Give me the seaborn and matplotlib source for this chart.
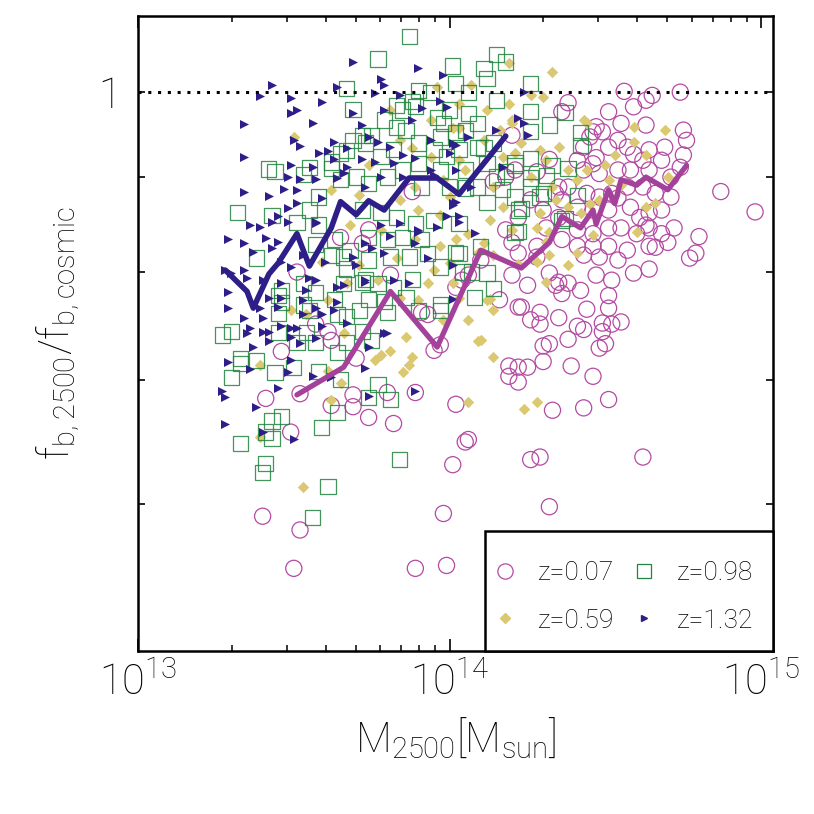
import matplotlib
matplotlib.use("Agg")
import matplotlib.pyplot as plt
import matplotlib.ticker as mticker
from matplotlib.lines import Line2D
from matplotlib.patches import Rectangle
import numpy as np
import seaborn as sns

# (log10 M2500 [Msun], f_b,2500 / f_b,cosmic)
z007_pts = [
    (14.20, 0.797), (14.25, 0.787), (14.23, 0.766), (14.26, 0.754), (14.29, 0.761), (14.29, 0.750),
    (14.35, 0.756), (14.34, 0.787), (14.36, 0.779), (14.38, 0.789), (14.42, 0.782), (14.35, 0.790),
    (14.32, 0.799), (14.43, 0.817), (14.48, 0.815), (14.47, 0.797), (14.52, 0.792), (14.51, 0.777),
    (14.51, 0.765), (14.44, 0.764), (14.41, 0.748), (14.43, 0.745), (14.49, 0.751), (14.52, 0.750),
    (14.55, 0.752), (14.49, 0.743), (14.50, 0.732), (14.48, 0.728), (14.38, 0.736), (14.32, 0.732),
    (14.30, 0.730), (14.30, 0.716), (14.19, 0.712), (14.22, 0.711), (14.25, 0.711), (14.19, 0.703),
    (14.22, 0.698), (14.39, 0.712), (14.46, 0.703), (14.51, 0.683), (14.43, 0.676), (14.33, 0.674),
    (14.59, 0.799), (14.64, 0.803), (14.66, 0.825), (14.54, 0.812), (14.06, 0.650), (14.26, 0.634),
    (14.29, 0.636), (14.62, 0.636), (14.77, 0.814), (13.97, 0.731), (14.02, 0.679), (14.05, 0.648),
    (14.01, 0.630), (13.98, 0.593), (13.99, 0.556), (14.32, 0.598), (13.41, 0.684), (13.52, 0.688),
    (13.46, 0.725), (13.62, 0.678), (13.69, 0.677), (13.74, 0.668), (13.82, 0.663), (13.80, 0.689),
    (13.89, 0.689), (13.69, 0.687), (13.70, 0.719), (13.62, 0.735), (13.49, 0.656), (13.40, 0.591),
    (13.52, 0.581), (13.50, 0.554), (13.89, 0.554), (13.95, 0.726), (14.56, 1.001), (14.63, 0.990),
    (14.65, 0.996), (14.59, 0.982), (14.51, 0.976), (14.74, 1.000), (14.75, 0.954), (14.76, 0.942),
    (14.69, 0.934), (14.63, 0.960), (14.55, 0.962), (14.47, 0.958), (14.49, 0.952), (14.45, 0.946),
    (14.54, 0.942), (14.57, 0.934), (14.64, 0.931), (14.68, 0.919), (14.74, 0.911), (14.71, 0.900),
    (14.62, 0.919), (14.59, 0.926), (14.51, 0.934), (14.47, 0.922), (14.43, 0.934), (14.41, 0.919),
    (14.46, 0.915), (14.43, 0.908), (14.48, 0.904), (14.54, 0.908), (14.58, 0.908), (14.64, 0.908),
    (14.62, 0.889), (14.66, 0.882), (14.71, 0.878), (14.57, 0.889), (14.52, 0.882), (14.48, 0.878),
    (14.44, 0.882), (14.38, 0.889), (14.36, 0.875), (14.34, 0.882), (14.41, 0.867), (14.46, 0.864),
    (14.51, 0.864), (14.58, 0.867), (14.64, 0.861), (14.68, 0.864), (14.64, 0.845), (14.68, 0.839),
    (14.60, 0.839), (14.55, 0.845), (14.51, 0.845), (14.46, 0.839), (14.41, 0.843), (14.36, 0.833),
    (14.41, 0.826), (14.46, 0.826), (14.51, 0.826), (14.57, 0.822), (14.64, 0.826), (14.70, 0.830),
    (14.72, 0.845), (14.28, 0.826), (14.31, 0.845), (14.35, 0.856), (14.30, 0.864), (14.26, 0.875),
    (14.35, 0.889), (14.80, 0.836), (14.79, 0.819), (14.28, 0.815), (14.22, 0.819), (14.36, 0.976),
    (14.38, 0.987), (14.75, 0.925), (14.87, 0.884), (14.98, 0.862), (14.63, 0.848), (14.61, 0.856),
    (14.54, 0.877), (14.46, 0.952), (13.51, 0.800), (13.65, 0.835), (13.57, 0.750), (13.61, 0.743),
    (14.18, 0.843), (14.20, 0.830), (14.22, 0.856), (14.06, 0.797), (14.04, 0.792), (14.02, 0.785),
    (13.93, 0.759), (14.22, 0.766), (14.20, 0.948), (14.21, 0.908), (14.18, 0.900), (13.88, 0.884),
    (13.74, 0.843), (13.81, 0.797), (13.72, 0.829), (13.91, 0.761), (14.32, 0.920), (14.28, 0.906),
    (14.14, 0.895), (14.10, 0.812), (14.16, 0.773),
]

z059_pts = [
    (13.50, 0.946), (13.96, 1.007), (14.07, 1.009), (14.19, 0.985), (14.19, 1.037), (14.12, 0.978),
    (14.03, 0.986), (14.20, 0.966), (14.03, 0.957), (14.11, 0.942), (14.16, 0.954), (14.17, 0.923),
    (14.05, 0.908), (13.98, 0.897), (13.88, 0.933), (13.94, 0.923), (13.81, 0.978), (14.14, 0.889),
    (14.01, 0.957), (14.00, 0.878), (13.89, 0.889), (13.84, 0.942), (13.93, 0.789), (14.12, 0.773),
    (14.03, 0.775), (14.14, 0.763), (14.09, 0.734), (14.14, 0.720), (13.86, 0.738), (13.81, 0.725),
    (13.88, 0.720), (13.78, 0.722), (13.85, 0.707), (14.01, 0.789), (14.00, 0.809), (14.09, 0.819),
    (14.13, 0.853), (14.17, 0.867), (13.97, 0.826), (13.83, 0.814), (13.95, 0.802), (13.84, 0.775),
    (13.77, 0.792), (14.20, 0.843), (14.06, 0.839), (13.61, 0.773), (13.49, 0.763), (13.54, 0.759),
    (13.39, 0.713), (13.66, 0.742), (13.67, 0.789), (13.59, 0.810), (13.62, 0.683), (13.65, 0.697),
    (13.76, 0.717), (13.87, 0.713), (13.53, 0.613), (13.61, 0.708), (13.39, 0.652), (14.11, 0.829),
    (14.14, 0.817), (14.22, 0.808), (14.28, 0.810), (14.32, 0.817), (14.31, 0.830), (14.41, 0.819),
    (14.38, 0.807), (14.31, 0.790), (14.13, 0.774), (14.10, 0.735), (14.06, 0.681), (14.24, 0.675),
    (14.28, 0.681), (14.33, 1.025), (14.26, 0.996), (14.30, 0.994), (14.43, 0.966), (14.59, 0.958),
    (14.69, 0.954), (14.59, 0.940), (14.63, 0.925), (14.53, 0.925), (14.50, 0.914), (14.44, 0.908),
    (14.51, 0.897), (14.55, 0.891), (14.70, 0.900), (14.48, 0.875), (14.45, 0.871), (14.42, 0.861),
    (14.38, 0.867), (14.34, 0.875), (14.31, 0.919), (14.35, 0.934), (14.29, 0.931), (14.23, 0.939),
    (14.26, 0.900), (14.38, 0.908), (14.41, 0.897), (14.33, 0.889), (14.29, 0.861), (14.32, 0.841),
    (14.46, 0.838), (14.60, 0.841), (14.66, 0.872), (14.63, 0.867), (14.28, 0.845), (14.20, 0.963),
    (14.21, 0.927), (14.44, 0.963), (13.71, 0.880), (13.78, 0.843), (13.68, 0.848), (13.90, 0.864),
    (13.84, 0.875), (13.97, 0.859), (14.03, 0.919), (13.74, 0.914), (13.62, 0.886), (13.89, 0.833),
    (14.02, 0.833), (13.71, 0.807), (13.90, 0.773), (13.98, 0.754), (14.06, 0.754), (13.94, 0.966),
]

z098_pts = [
    (13.67, 1.005), (13.69, 0.979), (13.42, 0.909), (13.44, 0.906), (13.55, 0.911), (13.53, 0.903),
    (13.62, 0.910), (13.65, 0.927), (13.69, 0.942), (13.65, 0.897), (13.70, 0.900), (13.58, 0.878),
    (13.87, 1.071), (13.77, 1.042), (14.01, 1.033), (14.15, 1.048), (14.18, 1.038), (14.11, 1.030),
    (14.12, 1.017), (13.90, 1.002), (14.02, 1.011), (14.06, 1.000), (14.15, 0.990), (13.89, 0.982),
    (13.85, 0.978), (13.79, 0.966), (13.83, 0.957), (13.86, 0.954), (13.75, 0.948), (13.96, 0.969),
    (14.00, 0.978), (13.98, 0.962), (14.06, 0.974), (14.09, 0.962), (14.05, 0.954), (14.02, 0.951),
    (13.97, 0.946), (13.90, 0.939), (13.82, 0.931), (13.78, 0.923), (13.73, 0.939), (13.95, 0.931),
    (13.99, 0.923), (14.03, 0.931), (14.09, 0.934), (14.14, 0.939), (14.12, 0.915), (14.15, 0.900),
    (14.05, 0.908), (13.97, 0.908), (13.90, 0.915), (13.85, 0.908), (13.80, 0.900), (13.74, 0.893),
    (13.91, 0.889), (14.00, 0.889), (14.09, 0.889), (14.17, 0.886), (13.32, 0.861), (13.43, 0.858),
    (13.51, 0.851), (13.58, 0.848), (13.38, 0.814), (13.53, 0.789), (13.66, 0.789), (13.46, 0.782),
    (13.57, 0.780), (13.46, 0.770), (13.45, 0.760), (13.55, 0.763), (13.63, 0.773), (13.67, 0.757),
    (13.30, 0.743), (13.27, 0.740), (13.45, 0.742), (13.54, 0.742), (13.51, 0.733), (13.57, 0.733),
    (13.67, 0.733), (13.33, 0.714), (13.38, 0.717), (13.50, 0.711), (13.64, 0.724), (13.63, 0.833),
    (13.66, 0.815), (13.68, 0.822), (13.55, 0.864), (13.72, 0.864), (13.78, 0.861), (13.83, 0.856),
    (13.89, 0.850), (13.95, 0.853), (14.03, 0.850), (14.12, 0.872), (14.21, 0.840), (13.74, 0.835),
    (13.80, 0.833), (13.85, 0.835), (13.91, 0.833), (13.74, 0.812), (13.81, 0.815), (13.87, 0.815),
    (13.93, 0.819), (13.97, 0.805), (14.03, 0.819), (14.10, 0.826), (14.12, 0.799), (14.07, 0.800),
    (13.73, 0.793), (13.77, 0.789), (13.82, 0.785), (13.88, 0.793), (13.86, 0.775), (13.74, 0.773),
    (13.71, 0.763), (13.80, 0.761), (13.90, 0.763), (13.97, 0.763), (14.08, 0.775), (14.14, 0.784),
    (13.75, 0.735), (13.33, 0.719), (13.30, 0.702), (13.44, 0.706), (13.58, 0.707), (13.65, 0.700),
    (13.77, 0.696), (13.81, 0.683), (13.74, 0.685), (13.46, 0.669), (13.43, 0.665), (13.41, 0.656),
    (13.43, 0.651), (13.33, 0.647), (13.41, 0.631), (13.40, 0.624), (13.59, 0.660), (13.64, 0.672),
    (13.84, 0.634), (13.61, 0.613), (13.56, 0.590), (14.26, 1.011), (14.26, 0.976), (14.37, 0.975),
    (14.32, 0.960), (14.26, 0.952), (14.42, 0.951), (14.42, 0.936), (14.21, 0.913), (14.33, 0.913),
    (14.38, 0.910), (14.41, 0.880), (14.37, 0.855), (14.26, 0.899), (14.22, 0.864), (14.02, 0.820),
    (14.04, 0.800), (13.97, 0.768), (14.21, 0.878), (14.29, 0.878), (14.18, 0.906), (14.11, 0.933),
    (14.05, 0.888), (14.26, 0.921), (14.21, 0.916), (14.31, 0.902), (14.26, 0.889), (14.30, 0.882),
    (14.23, 0.866), (14.36, 0.853), (14.22, 0.841), (13.62, 0.917), (13.67, 0.930), (13.72, 0.948),
    (13.83, 0.984), (13.88, 0.988), (13.94, 1.000), (13.57, 0.828), (13.62, 0.817), (13.67, 0.803),
    (13.72, 0.790), (13.79, 0.771), (13.45, 0.777), (13.53, 0.768), (13.64, 0.759), (13.72, 0.743),
]

z132_pts = [
    (13.69, 1.038), (13.43, 1.009), (13.39, 0.995), (13.49, 0.993), (13.59, 0.988), (13.64, 1.006),
    (13.49, 0.975), (13.51, 0.978), (13.34, 0.961), (13.56, 0.963), (13.34, 0.923), (13.49, 0.914),
    (13.52, 0.935), (13.50, 0.942), (13.58, 0.927), (13.61, 0.930), (13.63, 0.940), (13.67, 0.933),
    (13.63, 0.921), (13.48, 0.900), (13.52, 0.898), (13.57, 0.898), (13.56, 0.911), (13.47, 0.887),
    (13.51, 0.886), (13.34, 0.883), (13.42, 0.879), (13.69, 0.975), (13.64, 0.899), (13.67, 0.911),
    (13.77, 0.940), (13.78, 1.017), (13.79, 1.009), (13.90, 1.030), (13.98, 1.021), (13.91, 0.980),
    (13.72, 0.960), (13.84, 0.996), (13.89, 0.922), (13.95, 0.902), (14.01, 0.869), (13.99, 0.858),
    (13.90, 0.841), (13.81, 0.837), (13.75, 0.824), (13.70, 0.807), (13.66, 0.787), (13.73, 0.790),
    (13.64, 0.771), (13.59, 0.759), (13.53, 0.759), (13.49, 0.746), (13.42, 0.743), (13.57, 0.737),
    (14.01, 0.774), (13.29, 0.834), (13.34, 0.829), (13.36, 0.848), (13.41, 0.835), (13.45, 0.858),
    (13.48, 0.866), (13.29, 0.780), (13.29, 0.765), (13.34, 0.756), (13.36, 0.746), (13.39, 0.765),
    (13.46, 0.810), (13.53, 0.817), (13.57, 0.851), (13.59, 0.877), (13.66, 0.905), (13.72, 0.921),
    (13.76, 0.999), (13.97, 0.989), (13.99, 0.982), (13.79, 0.978), (13.88, 0.966), (13.74, 0.946),
    (13.81, 0.934), (13.85, 0.925), (13.76, 0.917), (13.82, 0.916), (13.94, 0.942), (14.01, 0.939),
    (14.06, 0.946), (14.15, 0.954), (14.00, 0.927), (13.94, 0.908), (14.02, 0.908), (14.07, 0.889),
    (14.17, 0.911), (13.73, 0.889), (13.78, 0.900), (13.85, 0.900), (13.39, 0.846), (13.51, 0.872),
    (13.43, 0.851), (13.48, 0.851), (13.57, 0.850), (13.45, 0.830), (13.43, 0.824), (13.37, 0.820),
    (13.28, 0.802), (13.30, 0.799), (13.34, 0.802), (13.35, 0.794), (13.40, 0.792), (13.49, 0.805),
    (13.46, 0.789), (13.55, 0.794), (13.57, 0.792), (13.42, 0.775), (13.46, 0.775), (13.53, 0.773),
    (13.57, 0.765), (13.45, 0.766), (13.40, 0.756), (13.46, 0.748), (13.51, 0.746), (13.59, 0.748),
    (13.35, 0.742), (13.40, 0.743), (13.37, 0.729), (13.49, 0.738), (13.52, 0.733), (13.42, 0.734),
    (13.29, 0.716), (13.36, 0.709), (13.49, 0.717), (13.67, 0.751), (13.63, 0.763), (13.60, 0.810),
    (13.69, 0.815), (13.54, 0.782), (13.64, 0.785), (13.27, 0.690), (13.28, 0.685), (13.28, 0.663),
    (13.38, 0.677), (13.40, 0.656), (13.50, 0.650), (13.45, 0.693), (13.48, 0.707), (13.56, 0.703),
    (13.62, 0.702), (13.73, 0.710), (13.74, 0.686), (13.89, 0.690), (13.80, 0.742), (13.74, 0.729),
    (13.82, 0.792), (13.87, 0.789), (14.01, 0.807), (13.93, 0.814), (13.90, 0.843), (13.96, 0.846),
    (14.03, 0.858), (14.08, 0.840), (13.78, 0.848), (13.73, 0.829), (13.79, 0.819), (13.73, 0.792),
    (13.79, 0.742), (13.89, 0.829), (13.84, 0.850), (14.01, 0.872), (14.24, 1.000), (14.22, 0.969),
    (14.25, 0.948), (14.02, 0.936), (14.02, 0.873), (14.03, 0.851), (14.24, 0.963),
]

# running medians
med007_logm = [13.51, 13.66, 13.81, 13.96, 14.10, 14.23, 14.32, 14.36, 14.42, 14.46, 14.47, 14.51,
               14.53, 14.55, 14.60, 14.63, 14.70, 14.76]
med007_fb = [0.687, 0.711, 0.781, 0.729, 0.822, 0.804, 0.830, 0.857, 0.845, 0.864, 0.849, 0.886,
             0.871, 0.897, 0.891, 0.900, 0.886, 0.913]
med132_logm = [13.28, 13.35, 13.37, 13.42, 13.45, 13.51, 13.55, 13.62, 13.65, 13.70, 13.74, 13.79,
               13.87, 13.96, 14.03, 14.18]
med132_fb = [0.802, 0.781, 0.765, 0.798, 0.809, 0.839, 0.806, 0.845, 0.873, 0.859, 0.874, 0.864,
             0.899, 0.899, 0.881, 0.947]

labels = ["z=0.07", "z=0.59", "z=0.98", "z=1.32"]
c_circ = "#b44aa2"
c_line_mag = "#a3419b"
c_sq = "#21843f"
c_dia = "#dbc872"
c_tri = "#2e1f88"


def split(pts):
    a = np.array(pts)
    return 10 ** a[:, 0], a[:, 1]


sns.set_style("ticks")
plt.rcParams["font.family"] = ["Roboto", "DejaVu Sans"]
plt.rcParams["font.weight"] = "light"
plt.rcParams["mathtext.fontset"] = "custom"
plt.rcParams["mathtext.rm"] = "Roboto:light"
plt.rcParams["mathtext.it"] = "Roboto:light"
plt.rcParams["mathtext.default"] = "rm"
plt.rcParams["text.color"] = "black"
plt.rcParams["xtick.color"] = "black"
plt.rcParams["ytick.color"] = "black"
plt.rcParams["axes.labelcolor"] = "black"

fig = plt.figure(figsize=(8.14, 8.14), dpi=100)
ax = fig.add_axes([0.1695, 0.2002, 0.7801, 0.7801])
ax.set_xscale("log")
ax.set_yscale("log")

x, y = split(z007_pts)
sns.scatterplot(x=x, y=y, ax=ax, marker="o", s=135, facecolors="none",
                edgecolor=c_circ, linewidth=0.9, zorder=2)
x, y = split(z059_pts)
sns.scatterplot(x=x, y=y, ax=ax, marker="D", s=34, color=c_dia,
                edgecolor=c_dia, linewidth=0, zorder=3)
x, y = split(z098_pts)
sns.scatterplot(x=x, y=y, ax=ax, marker="s", s=120, facecolors="none",
                edgecolor=c_sq, linewidth=0.9, alpha=0.85, zorder=4)
x, y = split(z132_pts)
sns.scatterplot(x=x, y=y, ax=ax, marker=">", s=42, color=c_tri,
                edgecolor=c_tri, linewidth=0, zorder=5)

sns.lineplot(x=10 ** np.array(med007_logm), y=med007_fb, ax=ax, sort=False,
             estimator=None, color=c_line_mag, linewidth=3.8, zorder=6)
sns.lineplot(x=10 ** np.array(med132_logm), y=med132_fb, ax=ax, sort=False,
             estimator=None, color=c_tri, linewidth=4.0, zorder=7)

ax.axhline(1.0, color="black", linestyle=(0, (1, 2.2)), linewidth=2.2, zorder=8)

ax.set_xlim(1e13, 1.09e15)
ax.set_ylim(0.5, 1.099)

ax.xaxis.set_major_locator(mticker.FixedLocator([1e13, 1e14, 1e15]))
ax.xaxis.set_major_formatter(mticker.FixedFormatter([r"$10^{13}$", r"$10^{14}$", r"$10^{15}$"]))
ax.xaxis.set_minor_locator(mticker.LogLocator(base=10, subs=np.arange(2, 10)))
ax.xaxis.set_minor_formatter(mticker.NullFormatter())
ax.yaxis.set_major_locator(mticker.FixedLocator([0.6, 0.7, 0.8, 0.9, 1.0]))
ax.yaxis.set_major_formatter(mticker.FixedFormatter(["", "", "", "", "1"]))
ax.yaxis.set_minor_locator(mticker.NullLocator())

ax.tick_params(axis="x", which="major", direction="in", length=8.5, width=1.2,
               top=True, labelsize=30, pad=8)
ax.tick_params(axis="x", which="minor", direction="in", length=4.3, width=1.1, top=True)
ax.tick_params(axis="y", which="major", direction="in", length=5, width=1.2,
               right=True, labelsize=30, pad=12)

for sp in ax.spines.values():
    sp.set_linewidth(1.8)
    sp.set_color("black")

ax.set_xlabel(r"$M_{2500}[M_{sun}]$", fontsize=30, labelpad=8)
ax.set_ylabel(r"$f_{b,2500}/f_{b,cosmic}$", fontsize=30, labelpad=12)

# legend frame flush with the lower-right corner of the axes
ax.add_patch(Rectangle((0.5465, 0.0), 0.4535, 0.189, transform=ax.transAxes,
                       facecolor="white", edgecolor="black", linewidth=1.8,
                       zorder=9, clip_on=False))
handles = [
    Line2D([], [], ls="none", marker="o", ms=11, mfc="none", mec=c_circ, mew=0.9),
    Line2D([], [], ls="none", marker="D", ms=5.5, color=c_dia),
    Line2D([], [], ls="none", marker="s", ms=10, mfc="none", mec=c_sq, mew=0.9),
    Line2D([], [], ls="none", marker=">", ms=4.5, color=c_tri),
]
leg = ax.legend(handles, labels, ncol=2, loc="upper left",
                bbox_to_anchor=(0.5575, 0.142), frameon=False, fontsize=19,
                handlelength=1.0, handletextpad=0.75, columnspacing=0.6,
                labelspacing=0.9, borderpad=0, borderaxespad=0)
leg.set_zorder(10)

fig.savefig("out.png", dpi=100)
